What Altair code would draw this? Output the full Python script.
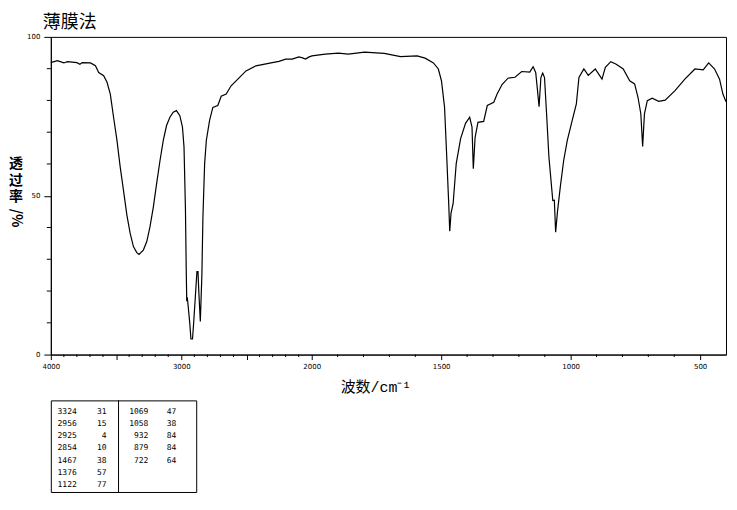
import altair as alt
import pandas as pd

# ---- spectrum ----
wavenumber = [4000, 3950, 3900, 3873, 3800, 3777, 3759, 3696, 3658, 3633, 3595, 3569, 3544,
              3519, 3493, 3468, 3443, 3417, 3392, 3367, 3341, 3324, 3291, 3265, 3240, 3214,
              3189, 3163, 3138, 3113, 3087, 3062, 3037, 3011, 2991, 2979, 2968, 2962, 2958,
              2954, 2948, 2935, 2926, 2914, 2905, 2892, 2880, 2872, 2865, 2854, 2842, 2834,
              2821, 2808, 2783, 2758, 2720, 2694, 2656, 2618, 2555, 2504, 2428, 2302, 2251,
              2200, 2150, 2099, 2070, 2048, 2020, 1999, 1948, 1897, 1859, 1796, 1720, 1657,
              1593, 1562, 1530, 1511, 1499, 1487, 1478, 1471, 1467, 1462, 1454, 1442, 1425,
              1406, 1390, 1381, 1376, 1369, 1358, 1336, 1322, 1297, 1284, 1265, 1242, 1215,
              1189, 1158, 1145, 1135, 1128, 1122, 1115, 1108, 1101, 1093, 1084, 1069, 1063,
              1058, 1051, 1040, 1027, 1013, 994, 978, 968, 949, 932, 905, 879, 866, 845, 824,
              797, 772, 753, 740, 729, 722, 715, 704, 685, 660, 635, 597, 559, 520, 488, 467,
              444, 425, 412, 400]
transmittance = [91.9, 92.5, 91.8, 92.2, 91.9, 91.4, 91.9, 91.8, 90.9, 88.8, 87.8, 85.7, 82.0,
                 74.7, 67.4, 59.0, 51.7, 43.9, 38.2, 34.0, 32.1, 31.5, 32.9, 35.5, 40.2, 46.5,
                 53.8, 61.1, 67.4, 72.1, 74.7, 76.3, 76.8, 75.2, 71.6, 65.3, 45.5, 26.6, 16.8,
                 18.0, 15.6, 9.9, 4.9, 4.9, 10.0, 18.3, 26.1, 26.1, 19.3, 10.4, 25.1, 43.4,
                 60.1, 67.4, 73.7, 77.8, 78.4, 81.3, 82.0, 84.6, 87.2, 89.3, 90.9, 91.9, 92.3,
                 93.0, 93.0, 93.7, 93.4, 93.0, 93.7, 94.0, 94.6, 94.9, 94.6, 95.2, 94.8, 93.8,
                 94.0, 93.3, 91.8, 89.9, 86.2, 77.8, 61.1, 47.6, 38.8, 44.5, 47.5, 60.1, 68.0,
                 72.8, 74.7, 71.6, 58.5, 68.4, 73.1, 73.4, 78.4, 79.4, 82.0, 85.0, 87.0, 87.3,
                 89.1, 88.9, 90.6, 88.8, 83.1, 78.0, 87.2, 88.6, 87.2, 75.8, 62.2, 48.5, 48.6,
                 38.5, 44.9, 52.8, 61.1, 67.4, 73.7, 78.9, 87.2, 89.9, 87.9, 89.9, 86.7, 90.4,
                 92.2, 91.4, 89.9, 86.2, 85.2, 81.0, 75.8, 65.5, 75.8, 79.9, 80.7, 79.7, 80.1,
                 83.1, 86.7, 89.9, 89.6, 91.8, 89.9, 86.7, 82.0, 79.6]

# ---- peak table ----
peak_wn_left = [3324, 2956, 2925, 2854, 1467, 1376, 1122]
peak_t_left = [31, 15, 4, 10, 38, 57, 77]
peak_wn_right = [1069, 1058, 932, 879, 722]
peak_t_right = [47, 38, 84, 84, 64]

# ---- axis ticks ----
x_major = [4000, 3500, 3000, 2500, 2000, 1500, 1000, 500]
x_labels = [4000, 3000, 2000, 1500, 1000, 500]
x_minor = [w for w in range(3900, 400, -100) if w % 500 != 0]
y_major = [0, 50, 100]
y_minor = [10, 20, 30, 40, 60, 70, 80, 90]

title_text = "薄膜法"
y_title_chars = ["透", "过", "率"]
y_title_unit = "/%"
x_title_text = "波数/cm⁻¹"

LABEL_FONT = "DejaVu Sans"
CJK = "Noto Sans CJK SC"

spec = pd.DataFrame({"wn": wavenumber, "T": transmittance})

xscale = alt.Scale(domain=[4000, 2000, 400], range=[0, 262, 678], nice=False, zero=False)
yscale = alt.Scale(domain=[0, 100], nice=False, zero=False)

label_test = " || ".join(f"datum.value == {v}" for v in x_labels)
xaxis = alt.Axis(values=x_major, format="d", labelExpr=f"({label_test}) ? datum.label : ''",
                 tickSize=5, labelPadding=3, labelFont=LABEL_FONT, labelFontSize=7,
                 labelFlush=False, labelOverlap=False, labelAngle=0, grid=False,
                 title=x_title_text, titleFont=f"Liberation Mono, {CJK}", titleFontSize=15,
                 titleFontWeight="normal", titleX=326, titleY=32, titleBaseline="middle",
                 titleAlign="center", titleColor="black")
yaxis = alt.Axis(values=y_major, format="d", tickSize=7, labelPadding=4, labelFont=LABEL_FONT,
                 labelFontSize=7, labelFlush=False, labelOverlap=False, grid=False, title=None)

line = alt.Chart(spec).mark_line(color="black", strokeWidth=1.2).encode(
    x=alt.X("wn:Q", scale=xscale, axis=xaxis),
    y=alt.Y("T:Q", scale=yscale, axis=yaxis),
)

xm = alt.Chart(pd.DataFrame({"wn": x_minor})).mark_rule(color="black", strokeWidth=1).encode(
    x=alt.X("wn:Q", scale=xscale, axis=xaxis),
    y=alt.value(319), y2=alt.value(321.5),
)
ym = alt.Chart(pd.DataFrame({"T": y_minor})).mark_rule(color="black", strokeWidth=1).encode(
    y=alt.Y("T:Q", scale=yscale, axis=yaxis),
    x=alt.value(-4), x2=alt.value(0),
)

one = pd.DataFrame({"k": [0]})
t_title = alt.Chart(one).mark_text(
    text=title_text, font=CJK, fontSize=18, align="left", baseline="middle", color="black"
).encode(x=alt.value(-8), y=alt.value(-14))

y_title_layers = []
for i, ch in enumerate(y_title_chars):
    y_title_layers.append(alt.Chart(one).mark_text(
        text=ch, font=CJK, fontSize=14, fontWeight="bold", align="center",
        baseline="middle", color="black"
    ).encode(x=alt.value(-35), y=alt.value(128 + 16.5 * i)))

t_yunit = alt.Chart(one).mark_text(
    text=y_title_unit, font=CJK, fontSize=14, fontWeight="bold", align="center",
    baseline="middle", angle=90, color="black"
).encode(x=alt.value(-35), y=alt.value(182))

main = alt.layer(line, xm, ym, t_title, *y_title_layers, t_yunit).properties(width=678, height=319)

# ---- table ----
rows = []
for i, (w, t) in enumerate(zip(peak_wn_left, peak_t_left)):
    rows.append({"col": "L", "row": i, "wn": str(w), "t": str(t)})
for i, (w, t) in enumerate(zip(peak_wn_right, peak_t_right)):
    rows.append({"col": "R", "row": i, "wn": str(w), "t": str(t)})
tbl = pd.DataFrame(rows)

xs = alt.Scale(type="point", domain=["L", "R"], range=[0, 68], padding=0)
ys = alt.Scale(type="point", domain=list(range(7)), range=[11.5, 85], padding=0)


def tcol(col, field, dx):
    return alt.Chart(tbl).transform_filter(f"datum.col == '{col}'").mark_text(
        align="right", baseline="middle", dx=dx, font="DejaVu Sans Mono", fontSize=8,
        color="black"
    ).encode(x=alt.X("col:N", scale=xs, axis=None),
             y=alt.Y("row:O", scale=ys, axis=None), text=f"{field}:N")


divider = alt.Chart(pd.DataFrame({"col": ["R"]})).mark_rule(color="black").encode(
    x=alt.X("col:N", scale=xs, axis=None), y=alt.value(0), y2=alt.value(92)
)
table = alt.layer(tcol("L", "wn", 26), tcol("L", "t", 56), tcol("R", "wn", 30),
                  tcol("R", "t", 58), divider).properties(width=146, height=92)

chart = alt.vconcat(main, table, spacing=4).properties(
    padding={"left": 0, "top": 4, "right": 0, "bottom": 0}, background="white"
).configure_view(stroke="black", strokeWidth=1).configure_axis(
    domainColor="black", tickColor="black", labelColor="black", domainWidth=1, tickWidth=1
)

chart.save("out.html", embed_options={"renderer": "svg", "actions": False})
